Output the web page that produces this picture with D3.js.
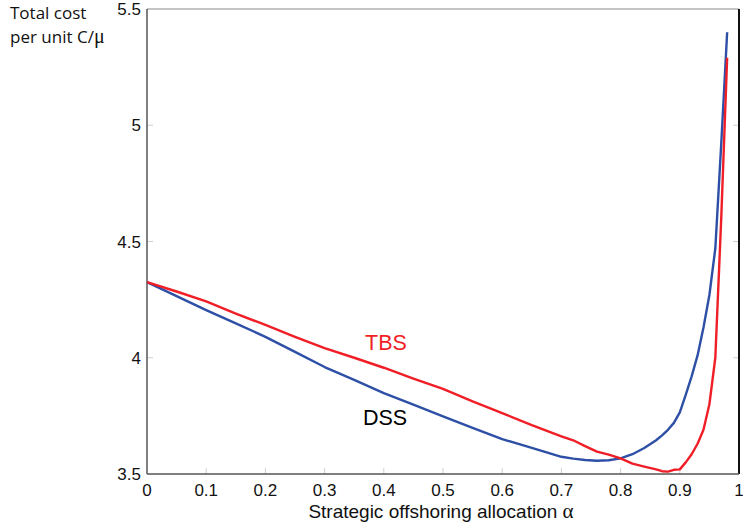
<!DOCTYPE html>
<html><head><meta charset="utf-8">
<script src="https://cdn.jsdelivr.net/npm/d3@7"></script>
<style>body{margin:0;background:#fff}svg{display:block}</style>
</head><body>
<script>
const alpha = [0,0.05,0.1,0.15,0.2,0.25,0.3,0.35,0.4,0.45,0.5,0.55,0.6,0.65,0.7,0.72,0.74,0.76,0.78,0.8,0.82,0.84,0.86,0.87,0.88,0.89,0.9,0.91,0.92,0.93,0.94,0.95,0.96,0.97,0.98];
const dss = [4.325,4.265,4.205,4.148,4.09,4.025,3.96,3.905,3.848,3.798,3.748,3.698,3.65,3.612,3.574,3.566,3.56,3.557,3.559,3.567,3.585,3.612,3.645,3.666,3.69,3.72,3.765,3.84,3.92,4.01,4.13,4.27,4.47,4.92,5.40];
const tbs = [4.325,4.285,4.242,4.19,4.141,4.09,4.041,4.0,3.957,3.91,3.866,3.812,3.762,3.71,3.662,3.645,3.62,3.596,3.583,3.567,3.545,3.532,3.52,3.512,3.51,3.518,3.52,3.55,3.585,3.63,3.69,3.8,4.0,4.6,5.29];
const xTicks = [0,0.1,0.2,0.3,0.4,0.5,0.6,0.7,0.8,0.9,1];
const xTickLabels = ["0","0.1","0.2","0.3","0.4","0.5","0.6","0.7","0.8","0.9","1"];
const yTicks = [3.5,4,4.5,5,5.5];
const yTickLabels = ["3.5","4","4.5","5","5.5"];

const W=743,H=531;
const svg=d3.select("body").append("svg").attr("width",W).attr("height",H);
const x=d3.scaleLinear().domain([0,1]).range([147,739]);
const y=d3.scaleLinear().domain([3.5,5.5]).range([474,9]);
const lab="'Liberation Sans', Arial, sans-serif";

// tick marks (inward, light gray)
const tg=svg.append("g").attr("stroke","#cfcfcf").attr("stroke-width",1);
xTicks.slice(1,-1).forEach(t=>{tg.append("line").attr("x1",x(t)).attr("x2",x(t)).attr("y1",y(3.5)).attr("y2",y(3.5)-6);});
yTicks.slice(1,-1).forEach(t=>{
  tg.append("line").attr("x1",x(0)).attr("x2",x(0)+6).attr("y1",y(t)).attr("y2",y(t));
  tg.append("line").attr("x1",x(1)).attr("x2",x(1)-6).attr("y1",y(t)).attr("y2",y(t));
});

// frame
svg.append("line").attr("x1",x(0)).attr("x2",x(1)).attr("y1",y(5.5)).attr("y2",y(5.5)).attr("stroke","#8a8a8a").attr("stroke-width",1.2);
svg.append("line").attr("x1",x(1)).attr("x2",x(1)).attr("y1",y(5.5)).attr("y2",y(3.5)).attr("stroke","#111").attr("stroke-width",2);
svg.append("line").attr("x1",x(0)).attr("x2",x(0)).attr("y1",y(5.5)).attr("y2",y(3.5)).attr("stroke","#555").attr("stroke-width",1.5);
svg.append("line").attr("x1",x(0)).attr("x2",x(1)).attr("y1",y(3.5)).attr("y2",y(3.5)).attr("stroke","#555").attr("stroke-width",1.5);

// tick labels
svg.append("g").selectAll("text").data(xTicks).join("text")
  .attr("x",d=>x(d)).attr("y",496).attr("text-anchor","middle")
  .attr("font-family",lab).attr("font-size",17).attr("fill","#111")
  .text((d,i)=>xTickLabels[i]);
svg.append("g").selectAll("text").data(yTicks).join("text")
  .attr("x",141).attr("y",d=>y(d)+6).attr("text-anchor","end")
  .attr("font-family",lab).attr("font-size",17).attr("fill","#111")
  .text((d,i)=>yTickLabels[i]);

// lines
const line=d3.line().x(d=>x(d[0])).y(d=>y(d[1]));
svg.append("path").datum(alpha.map((a,i)=>[a,dss[i]])).attr("d",line)
  .attr("fill","none").attr("stroke","#2d4fa5").attr("stroke-width",2.4).attr("stroke-linejoin","round");
svg.append("path").datum(alpha.map((a,i)=>[a,tbs[i]])).attr("d",line)
  .attr("fill","none").attr("stroke","#f01e26").attr("stroke-width",2.4).attr("stroke-linejoin","round");

// series labels
svg.append("text").attr("x",365).attr("y",350).attr("font-family",lab).attr("font-size",21.5).attr("fill","#f01e26").text("TBS");
svg.append("text").attr("x",363).attr("y",425).attr("font-family",lab).attr("font-size",21.5).attr("fill","#000").text("DSS");

// axis titles
const xt=svg.append("text").attr("x",441).attr("y",518).attr("text-anchor","middle")
  .attr("font-family",lab).attr("font-size",19).attr("fill","#111");
xt.append("tspan").text("Strategic offshoring allocation ");
xt.append("tspan").attr("font-family","'Liberation Serif', serif").attr("font-size",21).text("α");

const yt1=svg.append("text").attr("font-family","'Open Sans', 'Noto Sans', sans-serif").attr("font-size",17).attr("fill","#111")
  .attr("x",10).attr("y",19).text("Total cost");
const yt2=svg.append("text").attr("font-family","'Open Sans', 'Noto Sans', sans-serif").attr("font-size",17).attr("fill","#111")
  .attr("x",10).attr("y",43);
yt2.append("tspan").text("per unit C/");
yt2.append("tspan").attr("font-family","'Liberation Serif', serif").attr("font-size",20).text("μ");
</script>
</body></html>
